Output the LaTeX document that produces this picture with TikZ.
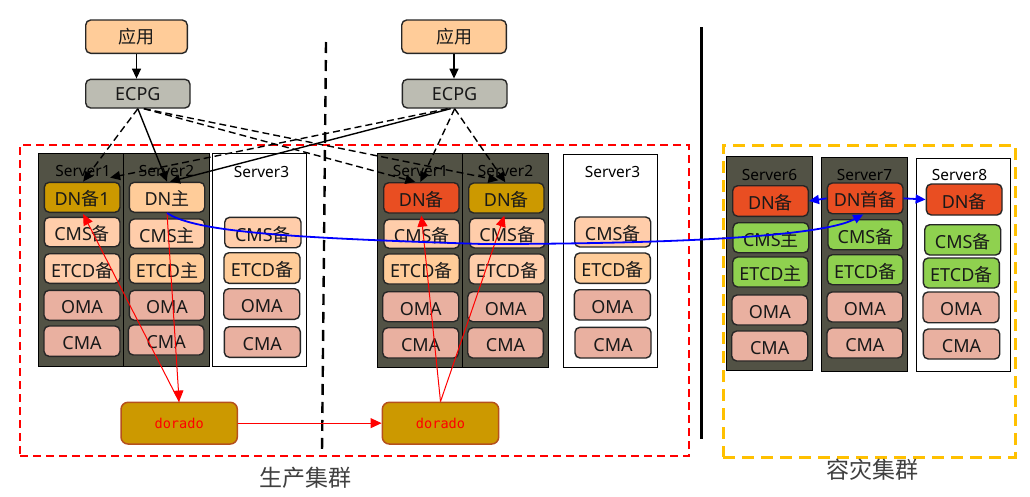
\documentclass[tikz,border=0pt]{standalone}
\usepackage{fontspec}
\setmainfont{Noto Sans}
\newfontfamily\cjk{Noto Sans CJK SC}
\newfontfamily\dmono{DejaVu Sans Mono}
\usetikzlibrary{arrows.meta}
\definecolor{peach}{HTML}{FFCC99}
\definecolor{lpeach}{HTML}{FFCDAA}
\definecolor{ecgray}{HTML}{BCBCB2}
\definecolor{darksrv}{HTML}{525245}
\definecolor{goldc}{HTML}{CC9900}
\definecolor{salmon}{HTML}{E9B0A0}
\definecolor{greenc}{HTML}{8FD14F}
\definecolor{redo}{HTML}{E94E22}
\definecolor{yel}{HTML}{FFC000}
\definecolor{dorab}{HTML}{B5501C}
\tikzset{
  rbox/.style={draw=black!85,line width=1.4pt,rounded corners=5pt,inner sep=0pt,font=\fontsize{18}{20}\selectfont,text=black!90},
  pe/.style={rbox,fill=peach},
  lp/.style={rbox,fill=lpeach},
  sa/.style={rbox,fill=salmon},
  gr/.style={rbox,fill=greenc},
  ro/.style={rbox,fill=redo},
  go/.style={rbox,fill=goldc},
  eg/.style={rbox,fill=ecgray},
  dora/.style={draw=dorab,line width=1.5pt,fill=goldc,rounded corners=7pt,inner sep=0pt,text=red,font=\dmono\fontsize{13.6}{15}\selectfont},
  srvd/.style={draw=black,line width=1pt,fill=darksrv,inner sep=0pt},
  srvw/.style={draw=black,line width=1pt,fill=white,inner sep=0pt},
  slabel/.style={inner sep=0pt,text=black,font=\fontsize{15.4}{17}\selectfont},
  area/.style={inner sep=0pt,text=black!75,font=\cjk\fontsize{23}{25}\selectfont},
  blk/.style={-{Triangle[length=10pt,width=9pt]},draw=black,line width=1.4pt},
  blkd/.style={blk,dash pattern=on 7pt off 4pt},
  redl/.style={-{Triangle[length=11pt,width=10pt]},draw=red,line width=1pt},
  blul/.style={-{Triangle[length=10pt,width=9pt]},draw=blue,line width=1.8pt},
}
\newcommand{\rb}{-6.4pt}
\newcommand{\bx}[7]{\node[#6,minimum width={(#4-#2)*1pt},minimum height={(#5-#3)*1pt}] (#1) at ({(#2+#4)/2},{(#3+#5)/2}) {\raisebox{\rb}[3pt][3pt]{#7}};}
\newcommand{\zh}[1]{{\cjk #1}}
\begin{document}
\begin{tikzpicture}[x=1pt,y=-1pt]
\useasboundingbox (0,0) rectangle (1030,496);
% area frames and separators
\node[draw=red,line width=2pt,dash pattern=on 8pt off 5pt,inner sep=0pt,minimum width=669pt,minimum height=311pt] (prod) at (354.5,300.5) {};
\node[draw=yel,line width=3pt,dash pattern=on 12pt off 7pt,inner sep=0pt,minimum width=292pt,minimum height=312pt] (dr) at (869.2,301.2) {};
\coordinate (sepa) at (326,42); \coordinate (sepb) at (322,452);
\draw[black,line width=2.4pt,dash pattern=on 11pt off 7pt] (sepa) -- (sepb);
\coordinate (sepc) at (701.5,27); \coordinate (sepd) at (701.5,439);
\draw[black,line width=3pt] (sepc) -- (sepd);
\node[area] (lprod) at (305,478) {生产集群};
\node[area] (ldr) at (872,470) {容灾集群};
% servers
\bx{sa}{38.3}{153.7}{123.7}{366.7}{srvd}{}
\bx{sb}{123.7}{153.7}{209.7}{366.7}{srvd}{}
\bx{sc}{212.7}{153.7}{306.7}{366.7}{srvw}{}
\bx{sd}{377.3}{153.7}{462.7}{367.3}{srvd}{}
\bx{se}{462.7}{153.7}{548.7}{367.3}{srvd}{}
\bx{sf}{563.3}{154.7}{657.7}{367.3}{srvw}{}
\bx{sg}{726.3}{156.7}{812.7}{370}{srvd}{}
\bx{sh}{821.3}{157.3}{907.3}{371}{srvd}{}
\bx{si}{916.3}{158.3}{1010.3}{371}{srvw}{}
\node[slabel] (la) at (83,171) {Server1};
\node[slabel] (lb) at (166.5,171) {Server2};
\node[slabel] (lc) at (261.5,171.5) {Server3};
\node[slabel] (ld) at (420.5,171) {Server1};
\node[slabel] (le) at (505.5,171) {Server2};
\node[slabel] (lf) at (612.5,172) {Server3};
\node[slabel] (lg) at (769.5,174.5) {Server6};
\node[slabel] (lh) at (864.5,174.5) {Server7};
\node[slabel] (li) at (959.5,174.5) {Server8};
% top
\bx{appa}{85.7}{20}{187.3}{53.3}{pe}{\zh{应用}}
\bx{ecpa}{85.7}{79.3}{190}{108}{eg}{ECPG}
\bx{appb}{401.7}{20}{506.3}{53.3}{pe}{\zh{应用}}
\bx{ecpb}{402.3}{79.3}{507}{108}{eg}{ECPG}
\renewcommand{\rb}{-8.6pt}
% prod left
\bx{dna}{44.3}{182.3}{120}{212.3}{go}{DN\zh{备}1}
\bx{dnb}{129.3}{182.3}{204.7}{212.3}{pe}{DN\zh{主}}
\bx{cmsa}{44.3}{217.3}{120}{246.7}{lp}{CMS\zh{备}}
\bx{cmsb}{129.3}{219}{204.7}{248.3}{lp}{CMS\zh{主}}
\bx{cmsc}{224.7}{217.3}{301}{247.7}{lp}{CMS\zh{备}}
\bx{eta}{44.3}{253.7}{120}{283.3}{lp}{ETCD\zh{备}}
\bx{etb}{129.3}{253.7}{204.7}{283.3}{pe}{ETCD\zh{主}}
\bx{etc}{224}{252.7}{300}{283.3}{pe}{ETCD\zh{备}}
\bx{oma}{44}{290.3}{120}{320.3}{sa}{OMA}
\bx{omb}{129.3}{290.3}{204.7}{320.3}{sa}{OMA}
\bx{omc}{223.7}{288.7}{299.7}{319.3}{sa}{OMA}
\bx{cma}{44}{326}{120}{356.3}{sa}{CMA}
\bx{cmb}{128.3}{325}{204}{355}{sa}{CMA}
\bx{cmc}{224.3}{326.7}{300.3}{357.3}{sa}{CMA}
% prod right
\bx{dnd}{383.7}{182.7}{459}{213}{ro}{DN\zh{备}}
\bx{dne}{468.7}{183}{544}{213}{go}{DN\zh{备}}
\bx{cmsd}{384}{219.3}{459.5}{248.3}{lp}{CMS\zh{备}}
\bx{cmse}{469.5}{218.3}{545}{248}{lp}{CMS\zh{备}}
\bx{cmsf}{574.7}{217}{650.7}{247}{lp}{CMS\zh{备}}
\bx{etd}{383.3}{254}{459.3}{284}{pe}{ETCD\zh{备}}
\bx{ete}{469}{254}{545}{284}{lp}{ETCD\zh{备}}
\bx{etf}{574.7}{253}{650.3}{283.3}{pe}{ETCD\zh{备}}
\bx{omd}{382.7}{291.7}{458.7}{321.7}{sa}{OMA}
\bx{ome}{467.7}{291.7}{543.7}{321.7}{sa}{OMA}
\bx{omf}{574.3}{289.7}{650.3}{320}{sa}{OMA}
\bx{cmd}{382.7}{327.7}{458.7}{358}{sa}{CMA}
\bx{cme}{467.7}{327.7}{543.3}{358}{sa}{CMA}
\bx{cmf}{575}{327.3}{651}{358}{sa}{CMA}
% DR
\bx{dng}{732.7}{185.7}{808.3}{216.3}{ro}{DN\zh{备}}
\bx{dnh}{827.3}{183}{903}{213.7}{ro}{DN\zh{首备}}
\bx{dni}{926.3}{184}{1002}{215}{ro}{DN\zh{备}}
\bx{cmsg}{733}{222.7}{808.7}{252.7}{gr}{CMS\zh{主}}
\bx{cmsh}{828}{219.7}{903}{249.7}{gr}{CMS\zh{备}}
\bx{cmsi}{924.7}{224.7}{1000.7}{255}{gr}{CMS\zh{备}}
\bx{etg}{732.7}{257}{808.3}{287}{gr}{ETCD\zh{主}}
\bx{eth}{827.3}{254.7}{903}{284.7}{gr}{ETCD\zh{备}}
\bx{eti}{923.3}{258}{999.3}{288}{gr}{ETCD\zh{备}}
\bx{omg}{732}{295}{807.7}{325}{sa}{OMA}
\bx{omh}{827}{292}{902.7}{322}{sa}{OMA}
\bx{omi}{923}{292}{999}{322.7}{sa}{OMA}
\bx{cmg}{731.7}{331}{807.7}{361}{sa}{CMA}
\bx{cmh}{827}{328}{902.7}{358}{sa}{CMA}
\bx{cmi}{923.3}{329}{999.7}{359}{sa}{CMA}
\renewcommand{\rb}{-5pt}
% dorado
\bx{dora}{121}{402.3}{237.3}{444}{dora}{dorado}
\bx{dorb}{382.3}{402.3}{498.7}{444}{dora}{dorado}
% black connectors
\draw[blk] (appa.south) -- (appa.south |- ecpa.north);
\draw[blk] (appb.south) -- (appb.south |- ecpb.north);
\draw[blkd] (ecpa.south) -- ([xshift=1pt]dna.north);
\draw[blk] (ecpa.south) -- (dnb.north);
\draw[blkd] ([xshift=6pt]ecpa.south) -- ([xshift=-6pt]dnd.north);
\draw[blkd] ([xshift=6pt]ecpa.south) -- ([xshift=-8pt,yshift=2pt]dne.north);
\draw[blkd] (ecpb.south) -- ([xshift=-1pt]dnd.north);
\draw[blkd] (ecpb.south) -- ([xshift=-1pt]dne.north);
\draw[blkd] ([xshift=-7pt]ecpb.south) -- ([xshift=28pt,yshift=4pt]dna.north);
\draw[blk] ([xshift=-4pt]ecpb.south) -- ([xshift=3pt]dnb.north);
% red connectors
\draw[redl] (dora.north) -- ([xshift=1pt,yshift=-1pt]dna.south);
\draw[redl] (dnb.south) -- (dora.north);
\draw[redl] (dora) -- (dorb);
\draw[redl] (dorb.north) -- ([yshift=-2pt]dnd.south);
\draw[redl] (dorb.north) -- ([xshift=-2pt,yshift=-2pt]dne.south);
% blue connectors
\coordinate (bmid) at (483,244);
\draw[blul] (dnb.south) .. controls +(28,19) and (290,238) .. (bmid) .. controls (650,244) and (820,238) .. ([xshift=-2pt]dnh.south);
\draw[blul] (dnh.west) -- (dng.east);
\draw[blul] (dnh.east) -- (dni.west);
\end{tikzpicture}
\end{document}
